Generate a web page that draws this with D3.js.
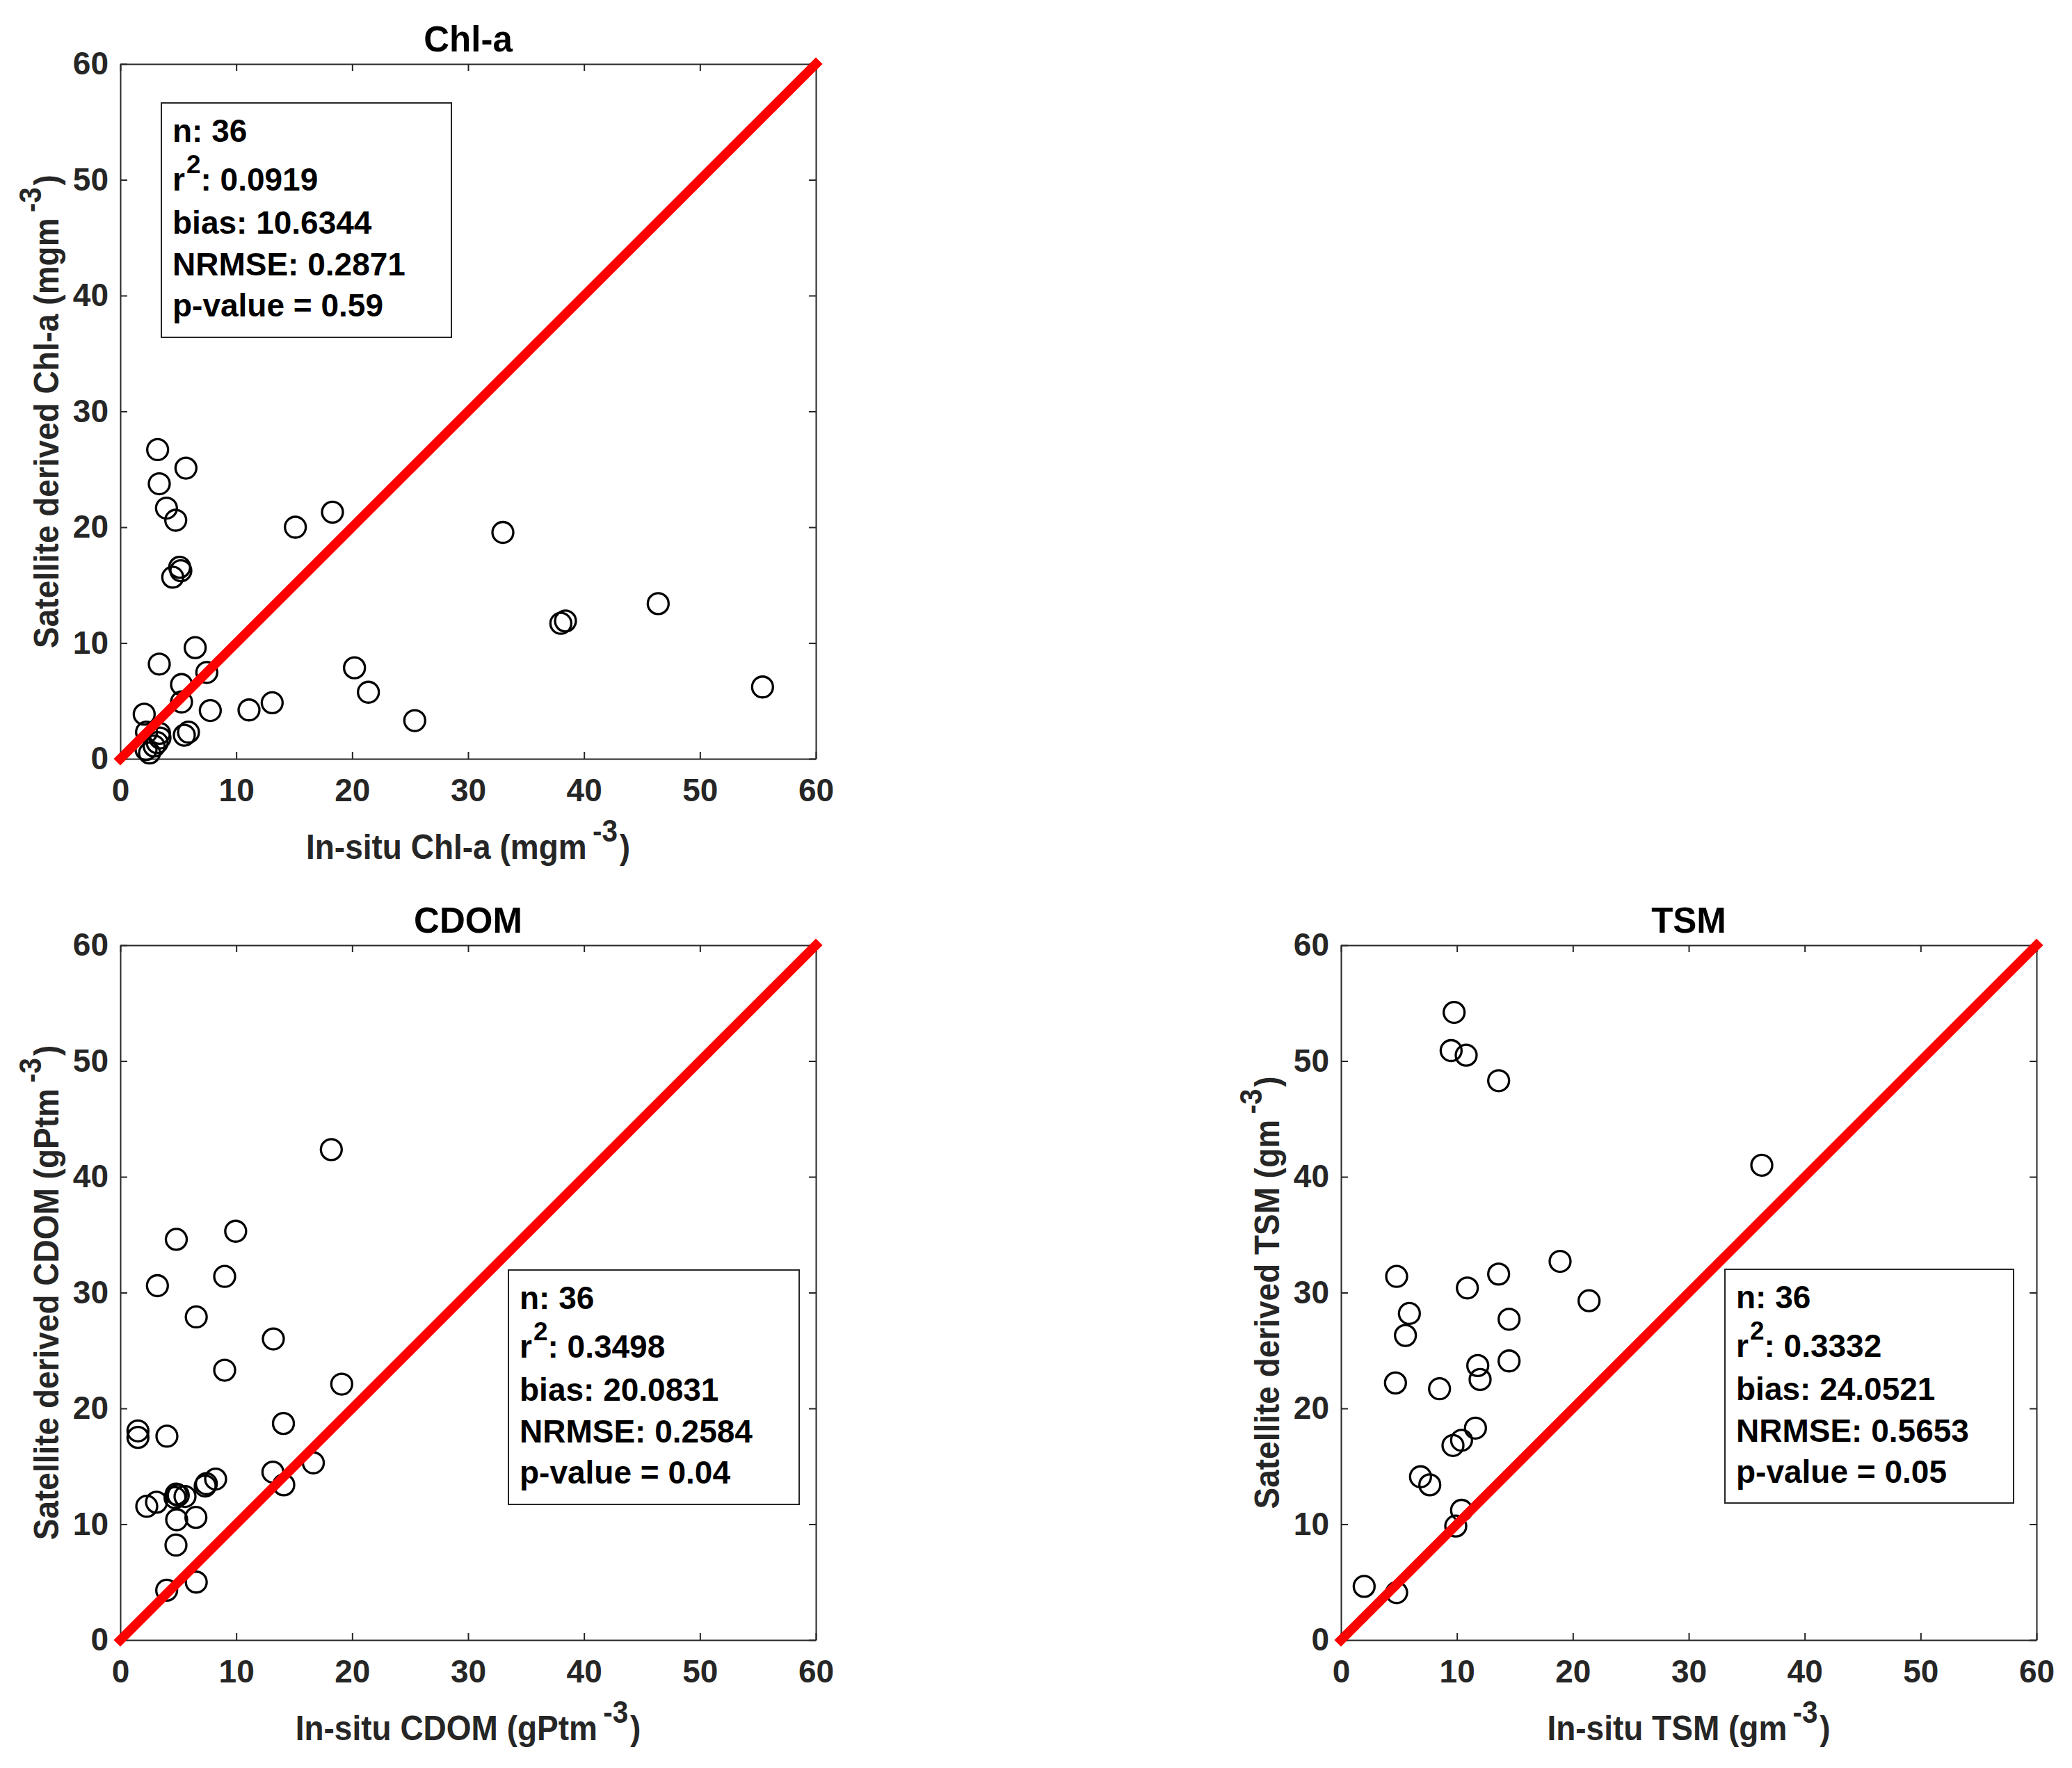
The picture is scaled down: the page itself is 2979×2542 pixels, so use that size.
<!DOCTYPE html>
<html>
<head>
<meta charset="utf-8">
<script src="https://cdn.jsdelivr.net/npm/d3@7"></script>
<style>
  body { margin: 0; background: white; }
  text { font-family: "Liberation Sans", Arial, sans-serif; font-weight: bold; }
</style>
</head>
<body>
<div id="chart"></div>
<script>
// axis ticks shared by all panels
const ticks = [0, 10, 20, 30, 40, 50, 60];

// Chl-a (in-situ vs satellite)
const chlX = [3.22, 5.66, 3.36, 3.98, 4.78, 15.1, 18.3, 33.0, 5.12, 5.22, 4.52, 46.4, 38.0, 38.4, 6.46, 3.36, 7.46, 5.28,
  20.2, 21.4, 25.4, 55.4, 13.1, 11.1, 7.76, 5.28, 2.06, 2.26, 3.38, 3.42, 3.18, 2.92, 2.22, 2.52, 5.88, 5.52];
const chlY = [26.7, 25.1, 23.75, 21.65, 20.6, 20.0, 21.3, 19.55, 16.54, 16.24, 15.68, 13.4, 11.7, 11.9, 9.6, 8.18, 7.46, 6.41,
  7.86, 5.75, 3.3, 6.2, 4.84, 4.22, 4.17, 4.91, 3.85, 2.3, 2.2, 1.8, 1.4, 1.1, 0.8, 0.5, 2.3, 2.04];

// CDOM
const cdomX = [18.2, 9.95, 4.83, 9.0, 3.2, 6.55, 13.2, 9.0, 19.1, 14.07, 1.52, 1.52, 4.02, 16.65, 13.16, 14.1, 8.22, 7.42,
  7.32, 2.28, 3.12, 4.82, 4.72, 5.0, 5.58, 4.86, 6.52, 4.8, 4.0, 6.55];
const cdomY = [42.35, 35.3, 34.6, 31.4, 30.6, 27.9, 26.0, 23.3, 22.1, 18.7, 18.06, 17.5, 17.6, 15.3, 14.5, 13.4, 13.9, 13.5,
  13.3, 11.55, 11.9, 12.6, 12.3, 12.5, 12.4, 10.39, 10.59, 8.2, 4.3, 5.0];

// TSM
const tsmX = [9.76, 9.5, 10.8, 13.6, 36.3, 18.9, 4.8, 13.6, 10.9, 21.4, 5.9, 14.5, 5.56, 11.8, 14.5, 12.0, 4.7, 8.5,
  11.6, 10.4, 9.66, 6.86, 7.66, 10.4, 9.9, 2.0, 4.8];
const tsmY = [54.2, 50.9, 50.5, 48.3, 41.0, 32.7, 31.4, 31.6, 30.4, 29.3, 28.2, 27.7, 26.3, 23.7, 24.1, 22.5, 22.2, 21.7,
  18.3, 17.25, 16.8, 14.1, 13.4, 11.2, 9.84, 4.63, 4.1];

// titles, labels and statistics
const titles = ["Chl-a", "CDOM", "TSM"];
const xLabels = ["In-situ Chl-a (mgm", "In-situ CDOM (gPtm", "In-situ TSM (gm"];
const yLabels = ["Satellite derived Chl-a (mgm", "Satellite derived CDOM (gPtm", "Satellite derived TSM (gm"];
const statN = ["36", "36", "36"];
const statR2 = ["0.0919", "0.3498", "0.3332"];
const statBias = ["10.6344", "20.0831", "24.0521"];
const statNRMSE = ["0.2871", "0.2584", "0.5653"];
const statP = ["0.59", "0.04", "0.05"];

const width = 2979, height = 2542;
const axisColor = "#262626";

let svg = d3.select("#chart")
  .append("svg")
  .attr("width", width)
  .attr("height", height)
  .style("background", "white");

// panel placement (pixels)
const panels = [
  { left: 173, top: 92, xs: chlX, ys: chlY, box: { x: 232, y: 148, w: 417, h: 337 } },
  { left: 173, top: 1359, xs: cdomX, ys: cdomY, box: { x: 731, y: 1826, w: 418, h: 337 } },
  { left: 1928, top: 1359, xs: tsmX, ys: tsmY, box: { x: 2480, y: 1825, w: 415, h: 336 } }
];
const pw = 1000, ph = 999;

// appends "main" + superscript + tail to a text element
function supText(sel, main, sup, tail, supSize, rise) {
  sel.append("tspan").text(main);
  sel.append("tspan").attr("dx", 9).attr("dy", -rise).style("font-size", supSize + "px").text(sup);
  sel.append("tspan").attr("dx", 3).attr("dy", rise).text(tail);
}

function drawPanel(p, i) {
  let g = svg.append("g").attr("transform", "translate(" + p.left + "," + p.top + ")");

  let x = d3.scaleLinear().domain([0, 60]).range([0, pw]);
  let y = d3.scaleLinear().domain([0, 60]).range([ph, 0]);

  // axes with inward ticks, box on
  let axB = g.append("g").attr("transform", "translate(0," + ph + ")")
    .call(d3.axisBottom(x).tickValues(ticks).tickSize(-10).tickPadding(28).tickSizeOuter(0));
  let axT = g.append("g")
    .call(d3.axisTop(x).tickValues(ticks).tickSize(-10).tickFormat("").tickSizeOuter(0));
  let axL = g.append("g")
    .call(d3.axisLeft(y).tickValues(ticks).tickSize(-10).tickPadding(17).tickSizeOuter(0));
  let axR = g.append("g").attr("transform", "translate(" + pw + ",0)")
    .call(d3.axisRight(y).tickValues(ticks).tickSize(-10).tickFormat("").tickSizeOuter(0));

  [axB, axT, axL, axR].forEach(function (a) {
    a.select(".domain").attr("stroke", axisColor).attr("stroke-width", 2);
    a.selectAll(".tick line").attr("stroke", axisColor).attr("stroke-width", 2);
    a.selectAll(".tick text")
      .attr("fill", axisColor)
      .style("font-size", "46px")
      .style("font-family", "'Liberation Sans', Arial, sans-serif")
      .style("font-weight", "bold");
  });
  axB.selectAll(".tick text").attr("dy", "0.71em");

  // scatter circles
  g.selectAll("circle.pt")
    .data(d3.zip(p.xs, p.ys))
    .enter()
    .append("circle")
    .attr("class", "pt")
    .attr("cx", function (d) { return x(d[0]); })
    .attr("cy", function (d) { return y(d[1]); })
    .attr("r", 15)
    .attr("fill", "none")
    .attr("stroke", "black")
    .attr("stroke-width", 3.3);

  // 1:1 line
  g.append("line")
    .attr("x1", x(0)).attr("y1", y(0))
    .attr("x2", x(60)).attr("y2", y(60))
    .attr("stroke", "#ff0000")
    .attr("stroke-width", 13.5)
    .attr("stroke-linecap", "square");

  // title
  g.append("text")
    .attr("x", pw / 2).attr("y", -18)
    .attr("text-anchor", "middle")
    .attr("fill", "black")
    .style("font-size", "51px")
    .text(titles[i]);

  // x label
  let xl = g.append("text")
    .attr("transform", "translate(" + (pw / 2) + "," + (ph + 144) + ") scale(0.92,1)")
    .attr("text-anchor", "middle")
    .attr("fill", axisColor)
    .style("font-size", "50px");
  supText(xl, xLabels[i], "-3", ")", 44, 25);

  // y label
  let yl = g.append("text")
    .attr("transform", "translate(" + (-89) + "," + (ph / 2) + ") rotate(-90) scale(0.92,1)")
    .attr("text-anchor", "middle")
    .attr("fill", axisColor)
    .style("font-size", "50px");
  supText(yl, yLabels[i], "-3", ")", 44, 25);

  // statistics box
  let b = p.box;
  svg.append("rect")
    .attr("x", b.x).attr("y", b.y)
    .attr("width", b.w).attr("height", b.h)
    .attr("fill", "white")
    .attr("stroke", axisColor)
    .attr("stroke-width", 2);

  let lines = [56, 126, 188, 248, 307];
  let tx = b.x + 16;
  let st = svg.append("g").style("font-size", "46px").attr("fill", "black");

  st.append("text").attr("x", tx).attr("y", b.y + lines[0]).text("n: " + statN[i]);
  let r2 = st.append("text").attr("x", tx).attr("y", b.y + lines[1]);
  r2.append("tspan").text("r");
  r2.append("tspan").attr("dx", 2).attr("dy", -25).style("font-size", "37px").text("2");
  r2.append("tspan").attr("dy", 25).text(": " + statR2[i]);
  st.append("text").attr("x", tx).attr("y", b.y + lines[2]).text("bias: " + statBias[i]);
  st.append("text").attr("x", tx).attr("y", b.y + lines[3]).text("NRMSE: " + statNRMSE[i]);
  st.append("text").attr("x", tx).attr("y", b.y + lines[4]).text("p-value = " + statP[i]);
}

panels.forEach(drawPanel);
</script>
</body>
</html>
